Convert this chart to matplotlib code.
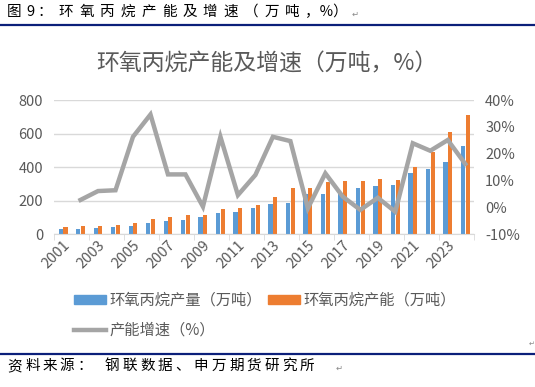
import numpy as np
import matplotlib
matplotlib.use("Agg")
import matplotlib.pyplot as plt
from matplotlib.ticker import FuncFormatter, FixedLocator
from matplotlib.lines import Line2D

plt.rcParams['font.family'] = ['Noto Sans CJK SC', 'DejaVu Sans']

# data
years = [str(y) for y in range(2001, 2025)]
output = [32, 32, 38, 44, 50, 67, 79, 85, 103, 127, 133, 157, 181, 187,
          240, 240, 248, 276, 288, 294, 365, 389, 431, 526]
capacity = [44, 50, 50, 56, 67, 91, 103, 115, 115, 151, 157, 175, 222, 276,
            276, 312, 318, 318, 330, 324, 401, 490, 609, 711]
growth = [np.nan, 2.8, 6.1, 6.4, 26.3, 34.6, 12.3, 12.3, 0.3, 26.3, 4.6, 12.1,
          26.3, 24.7, -0.3, 12.7, 4.0, -0.9, 3.6, -1.6, 23.9, 21.1, 25.1, 16.2]

blue = '#5B9BD5'
orange = '#ED7D31'
gray = '#A5A5A5'
txt = '#595959'
grid = '#D9D9D9'

W, H = 535, 387
fig = plt.figure(figsize=(W / 100, H / 100), dpi=100)

def fx(px):
    return px / W

def fy(py):
    return 1 - py / H

def spaced(s, x0, y, adv, size=10.5):
    # word-style spaced characters, one text per glyph
    for i, ch in enumerate(s):
        fig.text(fx(x0 + i * adv), fy(y), ch, ha='center', va='center',
                 fontsize=size, color='black')

ax = fig.add_axes([fx(54.3), fy(234.3), fx(474 - 54.3), (234.3 - 100) / H])
x = np.arange(len(years))
bw = 0.24
ax.bar(x - 0.135, output, bw, color=blue, zorder=2)
ax.bar(x + 0.135, capacity, bw, color=orange, zorder=2)
ax.set_xlim(-0.5, len(years) - 0.5)
ax.set_ylim(0, 800)
ax.set_yticks(range(0, 801, 200))
ax.yaxis.grid(True, color=grid, lw=1, zorder=0)
ax.set_axisbelow(True)
for s in ['left', 'right', 'top']:
    ax.spines[s].set_visible(False)
ax.spines['bottom'].set_color(grid)
ax.tick_params(axis='y', length=0, labelsize=10.5, labelcolor=txt, pad=8)

ax.set_xticks(x[::2])
ax.set_xticklabels(years[::2], rotation=45, ha='right', rotation_mode='anchor')
ax.tick_params(axis='x', length=0, labelsize=10.5, labelcolor=txt, pad=3)
ax.xaxis.set_minor_locator(FixedLocator(np.arange(-0.5, len(years), 2)))
ax.tick_params(axis='x', which='minor', length=4, color=grid)

ax2 = ax.twinx()
ax2.plot(x, growth, color=gray, lw=3.2, solid_joinstyle='miter', zorder=3)
ax2.set_ylim(-10, 40)
ax2.set_yticks(range(-10, 41, 10))
ax2.yaxis.set_major_formatter(FuncFormatter(lambda v, p: f'{int(v)}%'))
for s in ['left', 'right', 'top', 'bottom']:
    ax2.spines[s].set_visible(False)
ax2.tick_params(axis='y', length=0, labelsize=10.5, labelcolor=txt, pad=8)

# title
fig.text(fx(267), fy(64), '环氧丙烷产能及增速（万吨，%）', ha='center', va='center',
         fontsize=16.5, color=txt)

# legend
handles = [plt.Rectangle((0, 0), 1, 1, color=blue),
           Line2D([], [], color=gray, lw=3.2),
           plt.Rectangle((0, 0), 1, 1, color=orange)]
labels = ['环氧丙烷产量（万吨）', '产能增速（%）', '环氧丙烷产能（万吨）']
fig.legend(handles, labels, ncol=2, loc='upper left', bbox_to_anchor=(fx(74), fy(292)),
           frameon=False, fontsize=11, labelcolor=txt, handlelength=2.1,
           handleheight=0.5, handletextpad=0.25, columnspacing=0.35,
           labelspacing=0.85, borderpad=0, borderaxespad=0)

# document caption and source
spaced('图', 14, 12, 0)
fig.text(fx(30.5), fy(12), '9', ha='center', va='center', fontsize=10.5, color='black')
fig.text(fx(45), fy(12), '：', ha='center', va='center', fontsize=10.5, color='black')
spaced('环氧丙烷产能及增速（万吨', 66, 12, 20.6)
fig.text(fx(305), fy(12), '，%）', ha='left', va='center', fontsize=10.5, color='black')
fig.text(fx(352), fy(14), '↵', ha='left', va='center', fontsize=6, color='#888888',
         family='DejaVu Sans')
fig.add_artist(Line2D([0, 1], [fy(25), fy(25)], color='#0B1F7A', lw=1.6))
fig.add_artist(Line2D([0, 1], [fy(354), fy(354)], color='#0B1F7A', lw=1.6))
fig.text(fx(529), fy(344), '↵', ha='left', va='center', fontsize=5, color='#888888',
         family='DejaVu Sans')
spaced('资料来源：', 15, 366, 17.4)
spaced('钢联数据、申万期货研究所', 112, 366, 17.75)
fig.text(fx(336), fy(368), '↵', ha='left', va='center', fontsize=6, color='#888888',
         family='DejaVu Sans')

fig.savefig('out.png', dpi=100)
